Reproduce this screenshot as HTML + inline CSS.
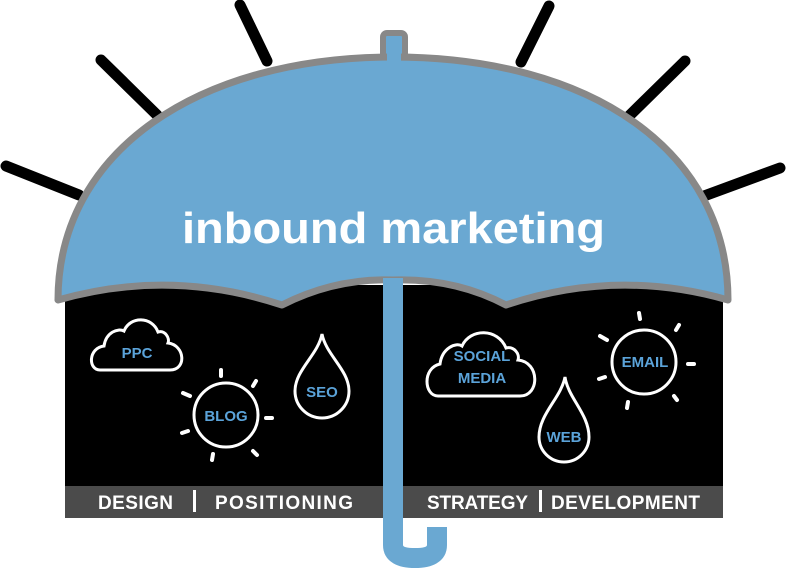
<!DOCTYPE html>
<html><head><meta charset="utf-8"><style>
html,body{margin:0;padding:0;background:#fff;width:790px;height:573px;overflow:hidden}
svg{display:block}
text{font-family:"Liberation Sans",sans-serif}
</style></head><body>
<svg width="790" height="573" viewBox="0 0 790 573">
<g stroke="#000" stroke-width="11" stroke-linecap="round">
<line x1="6" y1="166" x2="79" y2="195"/>
<line x1="101" y1="60" x2="157" y2="115"/>
<line x1="240" y1="5" x2="267" y2="61"/>
<line x1="549" y1="6" x2="521" y2="62"/>
<line x1="685" y1="61" x2="629" y2="116"/>
<line x1="780" y1="168" x2="704" y2="196"/>
</g>
<rect x="65" y="285" width="658" height="203" fill="#000"/>
<rect x="65" y="486" width="658" height="32" fill="#4b4b4b"/>
<g fill="#fff" font-weight="bold" font-size="19">
<text x="98" y="509" textLength="75">DESIGN</text>
<text x="215" y="509" textLength="138">POSITIONING</text>
<text x="427" y="509" textLength="101">STRATEGY</text>
<text x="551" y="509" textLength="149">DEVELOPMENT</text>
</g>
<rect x="193" y="490" width="3" height="22" fill="#fff"/>
<rect x="539" y="490" width="3" height="22" fill="#fff"/>
<rect x="383" y="33" width="22" height="30" rx="4" fill="#6aa8d2" stroke="#888" stroke-width="6"/>
<path d="M58,300 C58,150 200,57 393,57 C590,57 728,150 728,300 Q617,268 506,305 Q455,278 393,280 Q335,278 282,305 Q170,268 58,300 Z" fill="#6aa8d2" stroke="#888" stroke-width="7" stroke-linejoin="round"/>
<rect x="387" y="50" width="14" height="20" fill="#6aa8d2"/>
<text x="182" y="243" fill="#fff" font-size="44" font-weight="600" textLength="423" lengthAdjust="spacingAndGlyphs">inbound marketing</text>
<path d="M393,278 L393,545 Q393,558 415,558 Q437,558 437,545 L437,527" fill="none" stroke="#6aa8d2" stroke-width="20" stroke-linejoin="round"/>
<g fill="none" stroke="#fff" stroke-width="3">
<path d="M100,370 C88,370 88,348 104,346 C106,332 118,328 124,331 C130,316 152,316 158,332 C165,330 170,338 168,343 C185,345 187,370 170,370 Z"/>
<path d="M438,396 C424,396 422,368 440,364 C442,348 456,342 462,346 C470,328 498,328 506,348 C514,346 520,354 518,360 C540,362 540,396 520,396 Z"/>
<circle cx="226" cy="415" r="32"/>
<circle cx="644" cy="362" r="32"/>
<path d="M322,334 C326,355 349,370 349,391 A27,27 0 0 1 295,391 C295,370 318,355 322,334 Z"/>
<path d="M565,377 C568,398 589,414 589,437 A25,25 0 0 1 539,437 C539,414 561,398 565,377 Z"/>
</g>
<g stroke="#fff" stroke-width="4" stroke-linecap="round">
<line x1="221" y1="370" x2="221" y2="376"/><line x1="256" y1="381" x2="253" y2="386"/>
<line x1="266" y1="418" x2="272" y2="418"/><line x1="253" y1="451" x2="257" y2="455"/>
<line x1="213" y1="454" x2="212" y2="460"/><line x1="182" y1="433" x2="188" y2="431"/>
<line x1="183" y1="393" x2="190" y2="396"/>
<line x1="639" y1="313" x2="640" y2="319"/><line x1="679" y1="325" x2="676" y2="330"/>
<line x1="688" y1="364" x2="694" y2="364"/><line x1="674" y1="396" x2="677" y2="400"/>
<line x1="628" y1="402" x2="627" y2="408"/><line x1="599" y1="379" x2="605" y2="377"/>
<line x1="600" y1="336" x2="607" y2="340"/>
</g>
<g fill="#5ba3d9" font-weight="bold" font-size="15" text-anchor="middle">
<text x="137" y="358">PPC</text>
<text x="226" y="421">BLOG</text>
<text x="322" y="397">SEO</text>
<text x="482" y="361">SOCIAL</text>
<text x="482" y="383">MEDIA</text>
<text x="564" y="442">WEB</text>
<text x="645" y="367">EMAIL</text>
</g>
</svg>
</body></html>
